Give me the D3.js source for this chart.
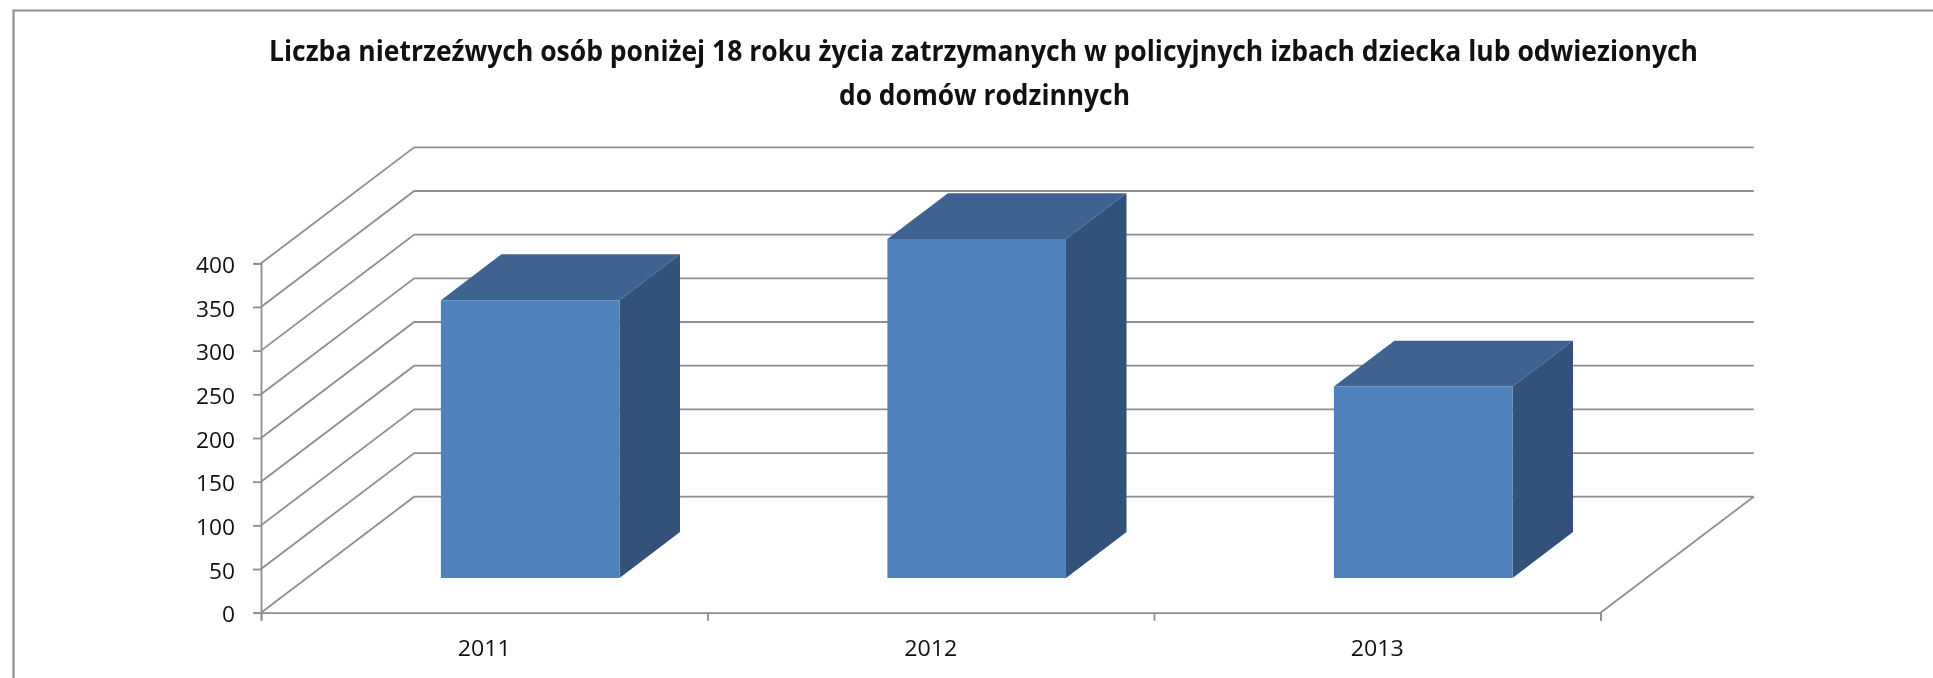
<!DOCTYPE html>
<html lang="pl">
<head>
<meta charset="utf-8">
<script src="https://cdn.jsdelivr.net/npm/d3@7"></script>
<style>
html,body{margin:0;padding:0;background:#fff;overflow:hidden}
svg{display:block;filter:blur(0.45px)}
text{font-family:"Open Sans",sans-serif;fill:#111}
</style>
</head>
<body>
<script>
const titleLines = ["Liczba nietrzeźwych osób poniżej 18 roku życia zatrzymanych w policyjnych izbach dziecka lub odwiezionych", "do domów rodzinnych"];
const categories = ["2011", "2012", "2013"];
const values = [318, 388, 219];
const yTicks = [0, 50, 100, 150, 200, 250, 300, 350, 400];
const barDepth = [0.3, 0.695];

const W = 1933, H = 678;
const svg = d3.select("body").append("svg").attr("width", W).attr("height", H);

const x = d3.scaleBand().domain(categories).range([261, 1600.5]).paddingInner(0.6).paddingOuter(0.3);
const boundary = d3.scaleLinear().domain([0, categories.length]).range([261, 1600.5]);
const y = d3.scaleLinear().domain([0, 400]).range([612.7, 263.3]);
const depthX = d3.scaleLinear().domain([0, 1]).range([0, 153.2]);
const depthY = d3.scaleLinear().domain([0, 1]).range([0, -116]);
const P = (px, v, d) => [px + depthX(d), y(v) + depthY(d)];
const GREY = "#8e8e8e";
const poly = pts => d3.line()(pts) + "Z";

// chart frame: top and left edges
svg.append("path").attr("d", d3.line()([[13.5, H + 5], [13.5, 10.5], [W + 5, 10.5]]))
  .attr("fill", "none").attr("stroke", GREY).attr("stroke-width", 2.2);

// title
svg.selectAll("text.title").data(titleLines).join("text").attr("class", "title")
  .attr("x", (d, i) => i ? 984.5 : 983.5).attr("y", (d, i) => 61 + i * 44)
  .attr("text-anchor", "middle").attr("font-size", 28).attr("font-weight", 700)
  .attr("textLength", (d, i) => i ? 291 : 1429).attr("lengthAdjust", "spacingAndGlyphs")
  .text(d => d);

// side wall + back wall gridlines
const xL = boundary(0), xR = boundary(categories.length);
svg.append("g").selectAll("path").data(yTicks).join("path")
  .attr("d", v => d3.line()([P(xL, v, 0), P(xL, v, 1), P(xR, v, 1)]))
  .attr("fill", "none").attr("stroke", GREY).attr("stroke-width", 1.8);

// floor right edge
svg.append("path").attr("d", d3.line()([P(xR, 0, 0), P(xR, 0, 1)]))
  .attr("fill", "none").attr("stroke", GREY).attr("stroke-width", 1.8);

// bars
const bars = svg.append("g").selectAll("g").data(categories.map((c, i) => ({c, v: values[i]}))).join("g");
const [d0, d1] = barDepth;
bars.append("path").attr("fill", "#3E6391")
  .attr("d", d => { const a = x(d.c), b = a + x.bandwidth();
    return poly([P(a, d.v, d0), P(a, d.v, d1), P(b, d.v, d1), P(b, d.v, d0)]); });
bars.append("path").attr("fill", "#325279")
  .attr("d", d => { const b = x(d.c) + x.bandwidth();
    return poly([P(b, 0, d0), P(b, 0, d1), P(b, d.v, d1), P(b, d.v, d0)]); });
bars.append("path").attr("fill", "#4F81BD")
  .attr("d", d => { const a = x(d.c), b = a + x.bandwidth();
    return poly([P(a, 0, d0), P(b, 0, d0), P(b, d.v, d0), P(a, d.v, d0)]); });

// axes
const yAxis = svg.append("g").attr("transform", `translate(${xL},0)`)
  .call(d3.axisLeft(y).tickValues(yTicks).tickSize(8).tickPadding(18));
const xTicks = svg.append("g").attr("transform", `translate(0,${y(0)})`)
  .call(d3.axisBottom(boundary).tickValues(d3.range(categories.length + 1)).tickSize(8).tickFormat(""));
const xLabels = svg.append("g").attr("transform", `translate(0,${y(0)})`)
  .call(d3.axisBottom(x).tickSize(0).tickPadding(28));
xLabels.select(".domain").remove();
[yAxis, xTicks].forEach(g => {
  g.selectAll(".domain").attr("stroke", GREY).attr("stroke-width", 1.8);
  g.selectAll(".tick line").attr("stroke", GREY).attr("stroke-width", 1.8);
});
yAxis.selectAll("text").attr("font-size", 22).attr("dy", "0.42em")
  .attr("textLength", d => String(d).length * 13).attr("lengthAdjust", "spacingAndGlyphs")
  .style("font-family", "'Open Sans',sans-serif").style("fill", "#111");
xLabels.selectAll("text").attr("font-size", 22).attr("textLength", 53).attr("lengthAdjust", "spacingAndGlyphs")
  .style("font-family", "'Open Sans',sans-serif").style("fill", "#111");
</script>
</body>
</html>
